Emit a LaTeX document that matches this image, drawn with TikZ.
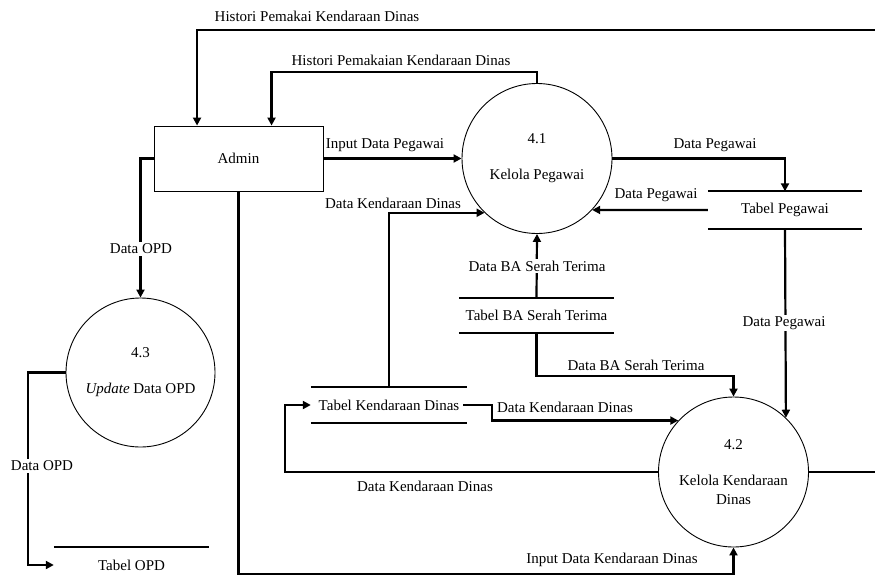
\documentclass[tikz,border=0pt]{standalone}
\usepackage{fontspec}
\setmainfont{Liberation Serif}
\usetikzlibrary{arrows.meta}
\begin{document}
\begin{tikzpicture}[x=1pt,y=-1pt,
  every node/.style={font=\fontsize{15}{18}\selectfont},
  flow/.style={line width=2.2pt},
  flowarrow/.style={flow,-{Triangle[length=8pt,width=8pt]}},
  process/.style={circle,draw,line width=0.9pt,minimum size=150pt,inner sep=0pt,align=center},
  entity/.style={rectangle,draw,line width=0.9pt,minimum width=169pt,minimum height=65pt,inner sep=0pt},
  store/.style={inner sep=0pt,minimum height=36pt},
  storeline/.style={line width=2.2pt},
  lbl/.style={inner sep=0pt},
  lblw/.style={inner sep=1.5pt,fill=white}
]
\useasboundingbox (0,0) rectangle (875,581);

% external entity and processes
\node[entity] (admin) at (238.5,158.5) {Admin};
\node[process] (p41) at (537,158.5) {4.1\\[18pt]Kelola Pegawai};
\node[process] (p42) at (733.5,472) {4.2\\[18pt]Kelola Kendaraan\\[1pt]Dinas};
\node[process,minimum size=149pt] (p43) at (140.5,372.5) {4.3\\[18pt]\textit{Update} Data OPD};

% data stores
\node[store,minimum width=154pt,minimum height=37pt] (tp) at (785,210) {Tabel Pegawai};
\node[store,minimum width=155pt,minimum height=35pt] (tba) at (536.5,315.5) {Tabel BA Serah Terima};
\node[store,minimum width=156pt] (tk) at (389,405) {Tabel Kendaraan Dinas};
\node[store,minimum width=155pt] (topd) at (131.5,565) {Tabel OPD};

\foreach \s in {tp,tba,tk}{
  \draw[storeline] (\s.north west) -- (\s.north east);
  \draw[storeline] (\s.south west) -- (\s.south east);
}
\draw[storeline] (topd.north west) -- (topd.north east);

% helper points for the routed flows
\coordinate (rtop) at (875,30);
\coordinate (h2) at (537,72);
\coordinate (rmid) at (875,472);
\coordinate (ba2) at (536.5,376);
\coordinate (j1) at (492,405);
\coordinate (loopL) at (285,472);
\coordinate (ab) at (238.5,574);
\coordinate (c28) at (28,372.5);

% flows
\draw[flowarrow] (rtop) -| ([xshift=43.5pt]admin.north west);
\draw[flowarrow] (p41.north) -- (h2) -| ([xshift=118pt]admin.north west);
\draw[flowarrow] (admin.east) -- (p41.west);
\draw[flowarrow] (p41.east) -| (tp.north);
\draw[flowarrow] (tp.west) -- (p41.-43.4);
\draw[flowarrow] (tp.south) -- (p42.46.6);
\draw[flowarrow] (tba.north) -- (p41.south);
\draw[flowarrow] (tba.south) -- (ba2) -| (p42.north);
\draw[flowarrow] (tk.north) |- (p41.226.6);
\draw[flowarrow] ([xshift=-4pt]tk.east) -- (j1) |- (p42.137.2);
\draw[flowarrow] (p42.west) -- (loopL) |- (tk.west);
\draw[flowarrow] (admin.south) -- (ab) -| (p42.south);
\draw[flow] (p42.east) -- (rmid);
\draw[flowarrow] (admin.west) -| (p43.north);
\draw[flowarrow] (p43.west) -- (c28) |- (topd.west);

% flow labels
\node[lbl] (l1) at (317,16) {Histori Pemakai Kendaraan Dinas};
\node[lbl] (l2) at (401,60) {Histori Pemakaian Kendaraan Dinas};
\node[lbl] (l3) at (385,145) {Input Data Pegawai};
\node[lbl] (l4) at (715,145) {Data Pegawai};
\node[lbl] (l5) at (656,195) {Data Pegawai};
\node[lbl] (l6) at (393,203) {Data Kendaraan Dinas};
\node[lblw] (l7) at (537,266) {Data BA Serah Terima};
\node[lblw] (l8) at (784,323) {Data Pegawai};
\node[lbl] (l9) at (636,365) {Data BA Serah Terima};
\node[lbl] (l10) at (565,407) {Data Kendaraan Dinas};
\node[lbl] (l11) at (425,486) {Data Kendaraan Dinas};
\node[lbl] (l12) at (612,560) {Input Data Kendaraan Dinas};
\node[lblw] (l13) at (141,249) {Data OPD};
\node[lblw] (l14) at (42,466) {Data OPD};
\end{tikzpicture}
\end{document}
